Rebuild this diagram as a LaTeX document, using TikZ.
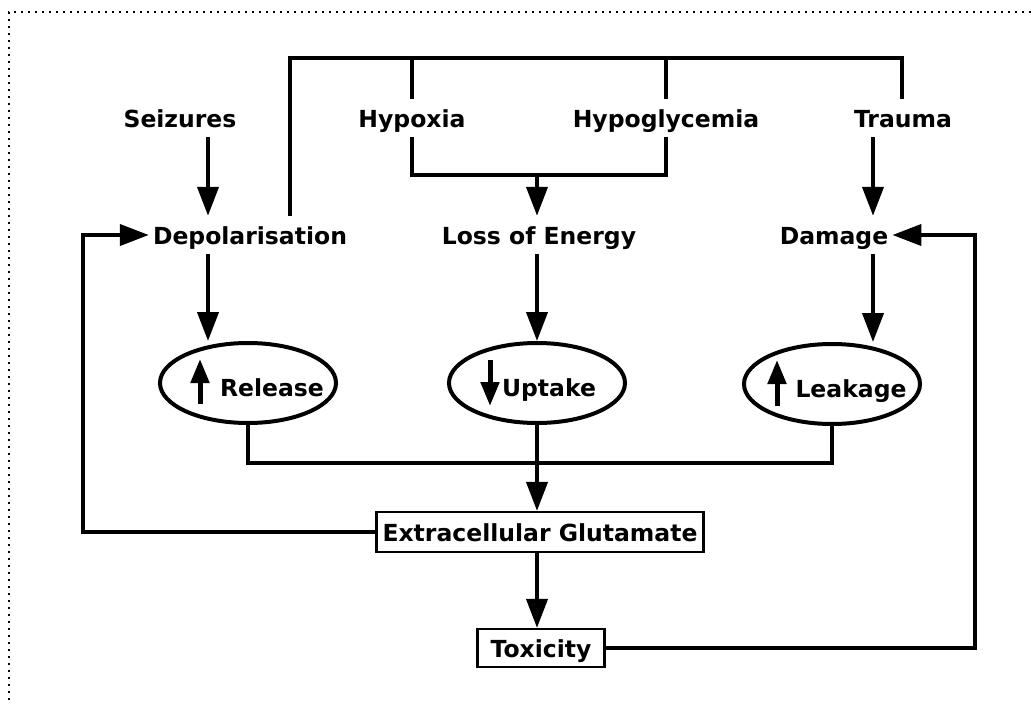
\documentclass[tikz,border=0pt]{standalone}
\usepackage{fontspec}
\setmainfont{DejaVu Sans}
\usetikzlibrary{arrows.meta,shapes.geometric,calc}
\begin{document}
\begin{tikzpicture}[x=1pt,y=-1pt,
  lbl/.style={font=\fontsize{23.5}{28}\selectfont\bfseries, text height=24pt, text depth=6pt, inner xsep=4pt, inner ysep=4pt},
  conn/.style={line width=4pt},
  arr/.style={conn,-{Triangle[length=29pt,width=21pt]}},
  oval/.style={ellipse, draw, line width=4pt, minimum width=176pt, minimum height=80pt, inner sep=0pt},
  box/.style={lbl, draw, line width=2.2pt, inner xsep=6pt},
  mini/.style={line width=5pt,-{Triangle[length=24pt,width=18pt]}}]
\useasboundingbox (0,0) rectangle (1031,704);
% border
\draw[line width=1.6pt, dash pattern=on 1.6pt off 5.4pt] (1031,12) -- (9,12) -- (9,704);
% nodes
\node[lbl] (seiz) at (180,118) {Seizures};
\node[lbl] (hypox) at (412,118) {Hypoxia};
\node[lbl] (hypog) at (666,118) {Hypoglycemia};
\node[lbl] (trauma) at (903,118) {Trauma};
\node[lbl] (depol) at (250,235) {Depolarisation};
\node[lbl] (loss) at (539,235) {Loss of Energy};
\node[lbl] (damage) at (834,235) {Damage};
\node[oval, label={[lbl,xshift=24pt,yshift=-4pt]center:Release}] (release) at (248,383) {};
\node[oval, label={[lbl,xshift=12pt,yshift=-4pt]center:Uptake}] (uptake) at (537,383) {};
\node[oval, label={[lbl,xshift=19pt,yshift=-4pt]center:Leakage}] (leak) at (832,384) {};
\node[box, minimum width=326pt, minimum height=40pt] (glut) at (540,532) {Extracellular Glutamate};
\node[box, minimum width=127pt, minimum height=37pt] (tox) at (541,648) {Toxicity};
% helper coordinates
\coordinate (colA) at (208,0);
\coordinate (colB) at (537,0);
\coordinate (colC) at (873,0);
\coordinate (busL) at (290,58);
\coordinate (busR) at (902,58);
\coordinate (brk) at (0,175);
\coordinate (join) at (0,463);
\coordinate (fbL) at (83,0);
\coordinate (fbR) at (975,0);
% connectors
\draw[conn] (depol.north -| busL) -- (busL) -- (busR) -- (trauma.north -| busR);
\draw[conn] (hypox.north) -- (hypox.north |- busL);
\draw[conn] (hypog.north) -- (hypog.north |- busL);
\draw[conn] (hypox.south) -- (hypox.south |- brk) -- (hypog.south |- brk) -- (hypog.south);
\draw[arr] (seiz.south -| colA) -- (depol.north -| colA);
\draw[arr] (depol.south -| colA) -- (release.north -| colA);
\draw[arr] (colB |- brk) -- (loss.north -| colB);
\draw[arr] (loss.south -| colB) -- (uptake.north);
\draw[arr] (trauma.south -| colC) -- (damage.north -| colC);
\draw[arr] (damage.south -| colC) -- (leak.north -| colC);
\draw[conn] (release.south) -- (release.south |- join) -- (leak.south |- join) -- (leak.south);
\draw[arr] (uptake.south) -- (glut.north -| uptake.south);
\draw[arr] (glut.south -| colB) -- (tox.north -| colB);
\draw[arr] (glut.west) -- (glut.west -| fbL) -- (depol.west -| fbL) -- (depol.west);
\draw[arr] (tox.east) -- (tox.east -| fbR) -- (damage.east -| fbR) -- (damage.east);
% small arrows inside ovals
\draw[mini] ($(release.center)+(-48,21)$) -- ($(release.center)+(-48,-24)$);
\draw[mini] ($(uptake.center)+(-47,-23)$) -- ($(uptake.center)+(-47,23)$);
\draw[mini] ($(leak.center)+(-55,22)$) -- ($(leak.center)+(-55,-24)$);
\end{tikzpicture}
\end{document}
